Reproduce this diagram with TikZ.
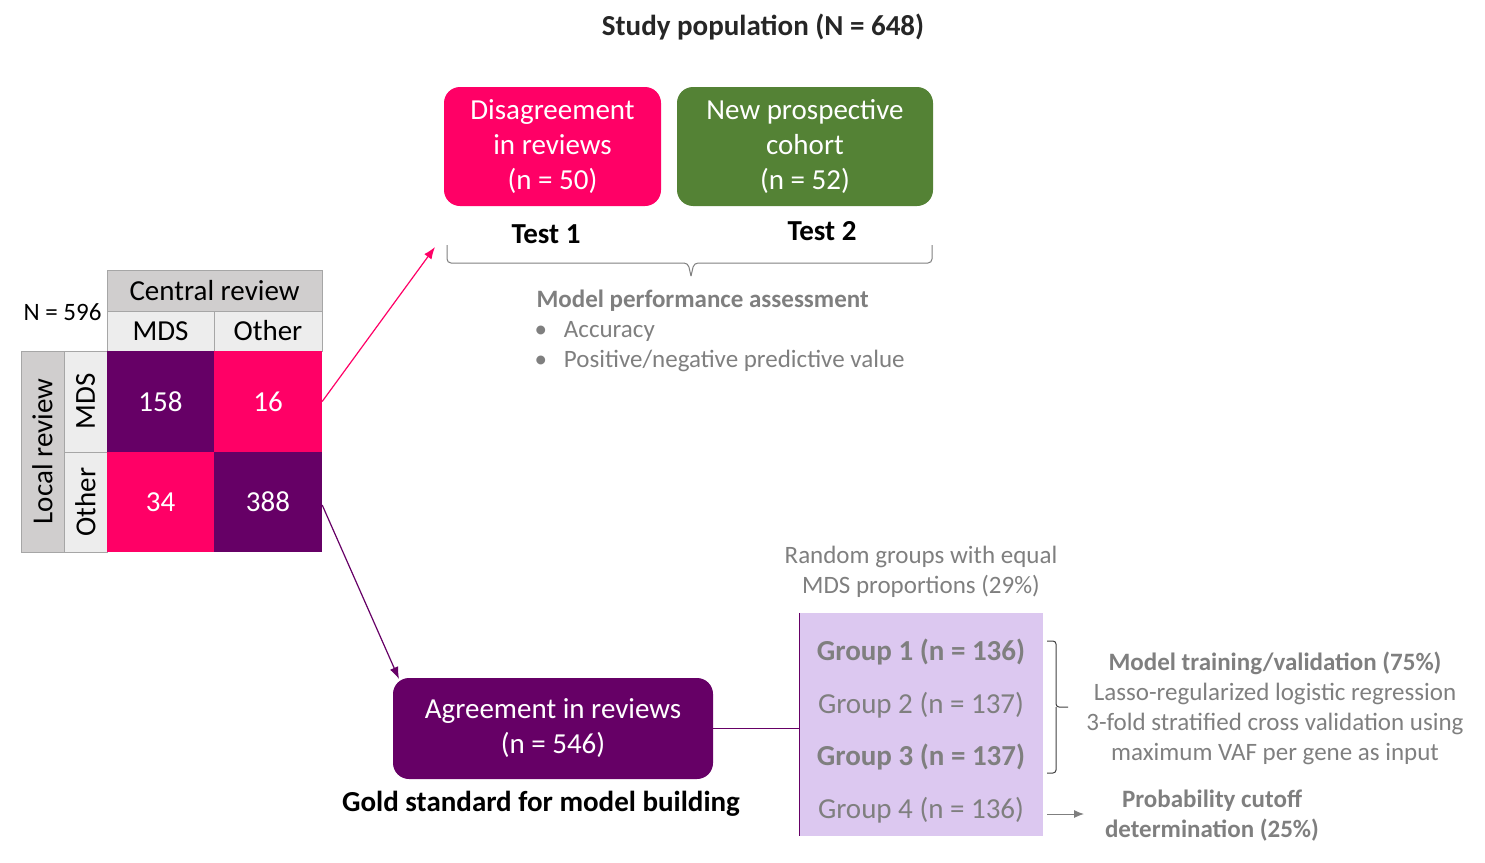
\documentclass[tikz,border=0pt]{standalone}
\usepackage{fontspec}
\setmainfont{Carlito}
\usetikzlibrary{positioning,arrows.meta}
\definecolor{rose}{RGB}{255,0,102}
\definecolor{prune}{RGB}{102,0,102}
\definecolor{vert}{RGB}{84,130,53}
\definecolor{gristxt}{RGB}{127,127,127}
\definecolor{grisfonce}{RGB}{208,206,206}
\definecolor{grisclair}{RGB}{237,237,237}
\definecolor{lavande}{RGB}{220,200,240}
\tikzset{
  boite/.style={rounded corners=16pt, text=white, align=center, font=\fontsize{29}{35}\selectfont},
  case/.style={inner sep=0pt, text=white, font=\fontsize{29}{34}\selectfont},
  entete/.style={draw=gray!70, inner sep=0pt, font=\fontsize{29}{34}\selectfont},
  gris/.style={text=gristxt, font=\fontsize{25}{30}\selectfont},
  gras/.style={font=\bfseries\fontsize{29}{34}\selectfont},
}
\begin{document}
\begin{tikzpicture}[x=1pt,y=-1pt]
\useasboundingbox (0,0) rectangle (1485,862);
% titre
\node[gras, text=black!85] (titre) at (763,27) {Study population (N = 648)};
% les deux tests
\node[boite, fill=rose, minimum width=217pt, minimum height=119pt] (desaccord) at (552.5,146.5) {Disagreement\\in reviews\\(n = 50)};
\node[boite, fill=vert, minimum width=256pt, minimum height=119pt] (cohorte) at (805,146.5) {New prospective\\cohort\\(n = 52)};
\node[gras] (test1) at (546,234) {Test 1};
\node[gras] (test2) at (822,231) {Test 2};
\draw [gristxt, line width=1pt, rounded corners=4pt] (447,245) -- (447,263) -- (688,263) -- (691,276);
\draw [gristxt, line width=1pt, rounded corners=4pt] (932,245) -- (932,263) -- (694,263) -- (691,276);
\node[gris, anchor=west, font=\bfseries\fontsize{25}{30}\selectfont] (perf) at (533,301) {Model performance assessment};
\node[gris, anchor=west] (acc) at (531,331) {\textbullet\hspace{17pt}Accuracy};
\node[gris, anchor=west] (ppv) at (531,361) {\textbullet\hspace{17pt}Positive/negative predictive value};
% matrice
\node[anchor=east, font=\fontsize{25}{30}\selectfont] (ntot) at (105,312) {N = 596};
\node[entete, fill=grisfonce, minimum width=215pt, minimum height=41pt] (central) at (214.5,290.5) {Central review};
\node[entete, fill=grisclair, minimum width=107pt, minimum height=40pt] (cmds) at (160.5,331) {MDS};
\node[entete, fill=grisclair, minimum width=108pt, minimum height=40pt] (cautre) at (268,331) {Other};
\node[entete, fill=grisfonce, minimum width=201pt, minimum height=43pt, rotate=90] (local) at (42.5,451.5) {Local review};
\node[entete, fill=grisclair, minimum width=101pt, minimum height=43pt, rotate=90] (lmds) at (85.5,401.5) {MDS};
\node[entete, fill=grisclair, minimum width=100pt, minimum height=43pt, rotate=90] (lautre) at (85.5,502) {Other};
\node[case, fill=prune, minimum width=107pt, minimum height=101pt] (c11) at (160.5,401.5) {158};
\node[case, fill=rose, minimum width=108pt, minimum height=101pt] (c12) at (268,401.5) {16};
\node[case, fill=rose, minimum width=107pt, minimum height=100pt] (c21) at (160.5,502) {34};
\node[case, fill=prune, minimum width=108pt, minimum height=100pt] (c22) at (268,502) {388};
% fleches
\coordinate (bout1) at (435,247);
\coordinate (bout2) at (399,679);
\draw [>={Latex[length=12pt,width=9pt]},->, rose, line width=1.2pt] (c12.east) -- (bout1);
\draw [>={Latex[length=12pt,width=9pt]},->, prune, line width=1.2pt] ([yshift=-3pt]c22.east) -- (bout2);
% accord
\node[boite, fill=prune, minimum width=320pt, minimum height=101pt] (accord) at (553,728.5) {Agreement in reviews\\(n = 546)};
\node[gras] (gold) at (541,804) {Gold standard for model building};
% groupes
\node[fill=lavande, minimum width=243pt, minimum height=223pt, inner sep=0pt] (groupes) at (921.5,724.5) {};
\draw [prune, line width=1.2pt] (groupes.north west) -- (groupes.south west);
\draw [prune, line width=1.2pt] (accord.east) -- (accord.east -| groupes.west);
\node[gris, align=center] (aleatoire) at (921,572) {Random groups with equal\\MDS proportions (29\%)};
\node[gris, gras, text=gristxt] (g1) at (921,652) {Group 1 (n = 136)};
\node[gris, font=\fontsize{29}{34}\selectfont] (g2) at (921,705) {Group 2 (n = 137)};
\node[gris, gras, text=gristxt] (g3) at (921,757) {Group 3 (n = 137)};
\node[gris, font=\fontsize{29}{34}\selectfont] (g4) at (921,810) {Group 4 (n = 136)};
\draw [black!75, line width=1pt, rounded corners=3pt] (1047,641) -- (1056,641) -- (1056,707) -- (1068,707);
\draw [black!75, line width=1pt, rounded corners=3pt] (1047,773) -- (1056,773) -- (1056,707);
\node[gris, align=center] (entrain) at (1275,708) {\textbf{Model training/validation (75\%)}\\Lasso-regularized logistic regression\\3-fold stratified cross validation using\\maximum VAF per gene as input};
\node[gris, align=center, font=\bfseries\fontsize{25}{30}\selectfont] (seuil) at (1212,816) {Probability cutoff\\determination (25\%)};
\coordinate (depart) at (1047,814);
\draw [>={Latex[length=10pt,width=8pt]},->, gristxt, line width=1pt] (depart) -- (1084,814);
\end{tikzpicture}
\end{document}
